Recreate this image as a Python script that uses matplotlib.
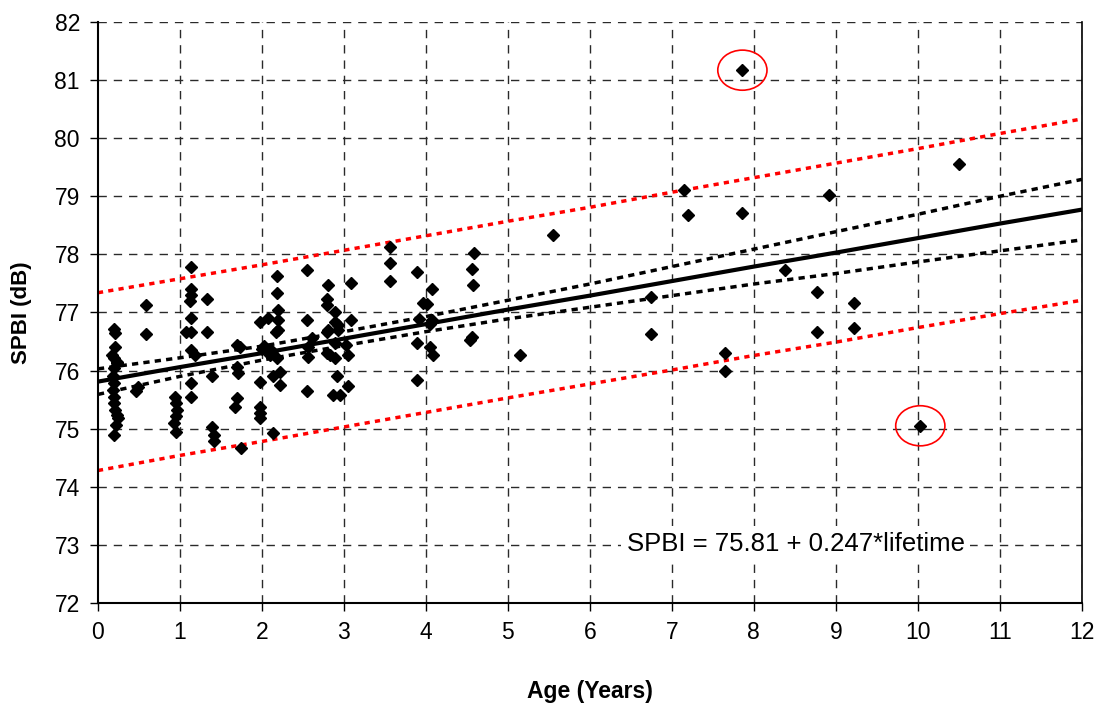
import matplotlib
matplotlib.use("Agg")
import matplotlib.pyplot as plt
from matplotlib.patches import Ellipse
import numpy as np

plt.rcParams['font.family'] = ['Liberation Sans', 'DejaVu Sans']

# measured points (age in years, SPBI in dB)
age = [0.19, 0.21, 0.21, 0.19, 0.23, 0.17, 0.23, 0.20, 0.18, 0.20, 0.18, 0.20,
       0.19, 0.21, 0.23, 0.25, 0.22, 0.20,
       0.59, 0.59, 0.49, 0.47,
       0.94, 0.95, 0.96, 0.95, 0.93, 0.95,
       1.14, 1.14, 1.13, 1.12, 1.14, 1.14, 1.07, 1.14, 1.18, 1.14, 1.14,
       1.33, 1.33, 1.39, 1.39, 1.41, 1.41,
       1.69, 1.73, 1.69, 1.71, 1.69, 1.67, 1.75,
       1.98, 2.08, 1.98, 1.98, 1.98, 1.98,
       2.00, 2.06, 2.12, 2.10, 2.18, 2.03,
       2.18, 2.18, 2.20, 2.19, 2.20, 2.17,
       2.22, 2.13, 2.22, 2.13,
       2.55, 2.55, 2.55, 2.56, 2.56, 2.61,
       2.81, 2.79, 2.79, 2.89, 2.89, 2.93, 2.81, 2.79, 2.93, 2.89, 2.79, 2.83,
       2.89, 2.91, 2.87, 2.95,
       3.09, 3.09, 3.03, 3.05, 3.05,
       3.56, 3.56, 3.56,
       3.89, 4.07, 3.97, 4.01, 3.91, 4.07, 4.05, 3.89, 4.05, 4.09, 3.89,
       4.59, 4.56, 4.58, 4.56, 4.54,
       5.15, 5.55, 6.75, 6.75, 7.15, 7.20, 7.65, 7.65, 7.86, 7.86, 8.38,
       8.77, 8.77, 8.92, 9.22, 9.22, 10.03, 10.50]
spbi = [76.72, 76.65, 76.40, 76.21, 76.13, 76.27, 76.15, 76.05, 75.90, 75.78, 75.67, 75.55,
        75.44, 75.32, 75.24, 75.18, 75.06, 74.89,
        77.13, 76.63, 75.72, 75.65,
        75.55, 75.44, 75.32, 75.21, 75.09, 74.95,
        77.78, 77.40, 77.30, 77.19, 76.90, 76.67, 76.66, 76.35, 76.27, 75.78, 75.55,
        77.24, 76.66, 75.90, 75.03, 74.89, 74.78,
        76.44, 76.40, 76.07, 75.95, 75.52, 75.38, 74.66,
        76.84, 76.90, 75.81, 75.38, 75.27, 75.18,
        76.38, 76.35, 76.33, 76.27, 76.21, 76.42,
        77.62, 77.34, 77.04, 76.87, 76.70, 76.66,
        75.98, 75.90, 75.75, 74.93,
        77.73, 76.87, 75.65, 76.40, 76.24, 76.56,
        77.47, 77.24, 77.13, 77.01, 76.84, 76.78, 76.70, 76.67, 76.70, 76.47, 76.30, 76.27,
        76.21, 75.90, 75.58, 75.58,
        77.51, 76.87, 76.44, 76.27, 75.74,
        78.12, 77.85, 77.55,
        77.70, 77.40, 77.17, 77.15, 76.88, 76.87, 76.80, 76.47, 76.41, 76.27, 75.84,
        78.03, 77.74, 77.47, 76.58, 76.53,
        76.26, 78.33, 77.27, 76.63, 79.10, 78.68, 76.30, 76.00, 81.17, 78.72, 77.73,
        77.35, 76.67, 79.02, 77.16, 76.74, 75.05, 79.56]

# regression line and bands, read at whole years
band_x = list(range(13))
fit_y = [75.81, 76.06, 76.30, 76.55, 76.80, 77.05, 77.29, 77.54, 77.79, 78.03, 78.28, 78.53, 78.77]
conf_hi = [76.03, 76.22, 76.42, 76.67, 76.93, 77.21, 77.49, 77.79, 78.09, 78.39, 78.69, 79.00, 79.29]
conf_lo = [75.59, 75.90, 76.18, 76.43, 76.67, 76.89, 77.09, 77.29, 77.49, 77.67, 77.87, 78.06, 78.25]
pred_hi = [77.34, 77.58, 77.82, 78.07, 78.32, 78.57, 78.81, 79.07, 79.32, 79.57, 79.82, 80.08, 80.33]
pred_lo = [74.28, 74.54, 74.78, 75.03, 75.28, 75.53, 75.77, 76.01, 76.26, 76.49, 76.74, 76.98, 77.21]

# outliers marked by hand
outliers = [(7.86, 81.17), (10.03, 75.05)]

fig = plt.figure(figsize=(11.03, 7.08), dpi=100)
ax = fig.add_axes([0.0888, 0.1483, 0.892, 0.8207])

grid_style = dict(color='#2a2a2a', linestyle=(0, (6, 5)), linewidth=1.0, zorder=0)
for gx in range(1, 13):
    ax.axvline(gx, **grid_style)
for gy in range(73, 83):
    ax.axhline(gy, **grid_style)

ax.plot(band_x, pred_hi, color='red', linestyle=(0, (1.5, 1.5)), linewidth=2.5, zorder=2)
ax.plot(band_x, pred_lo, color='red', linestyle=(0, (1.5, 1.5)), linewidth=2.5, zorder=2)
ax.plot(band_x, conf_hi, color='black', linestyle=(0, (1.8, 1.5)), linewidth=2.5, zorder=2)
ax.plot(band_x, conf_lo, color='black', linestyle=(0, (1.8, 1.5)), linewidth=2.5, zorder=2)
ax.plot(band_x, fit_y, color='black', linewidth=3, zorder=3)

ax.plot(age, spbi, linestyle='none', marker='D', markersize=6.2,
        color='black', zorder=4)

for ox, oy in outliers:
    ax.add_patch(Ellipse((ox, oy), 0.6, 0.69, fill=False, edgecolor='red',
                         linewidth=1.2, zorder=5))

ax.text(6.45, 73.02, 'SPBI = 75.81 + 0.247*lifetime', fontsize=18.5, va='center',
        ha='left', zorder=6,
        bbox=dict(facecolor='white', edgecolor='none', pad=4))

ax.set_xlim(0, 12)
ax.set_ylim(72, 82)
ax.set_xticks(range(0, 13))
ax.set_yticks(range(72, 83))
ax.tick_params(direction='out', length=6, width=1, labelsize=16.5, pad=7)
ax.spines['top'].set_visible(False)
ax.spines['right'].set_linewidth(1.2)
ax.spines['left'].set_linewidth(1.5)
ax.spines['bottom'].set_linewidth(1.5)

ax.set_xlabel('Age (Years)', fontsize=16.5, fontweight='bold', labelpad=26)
ax.set_ylabel('SPBI (dB)', fontsize=16, fontweight='bold', labelpad=16)

fig.savefig('out.png', dpi=100)
